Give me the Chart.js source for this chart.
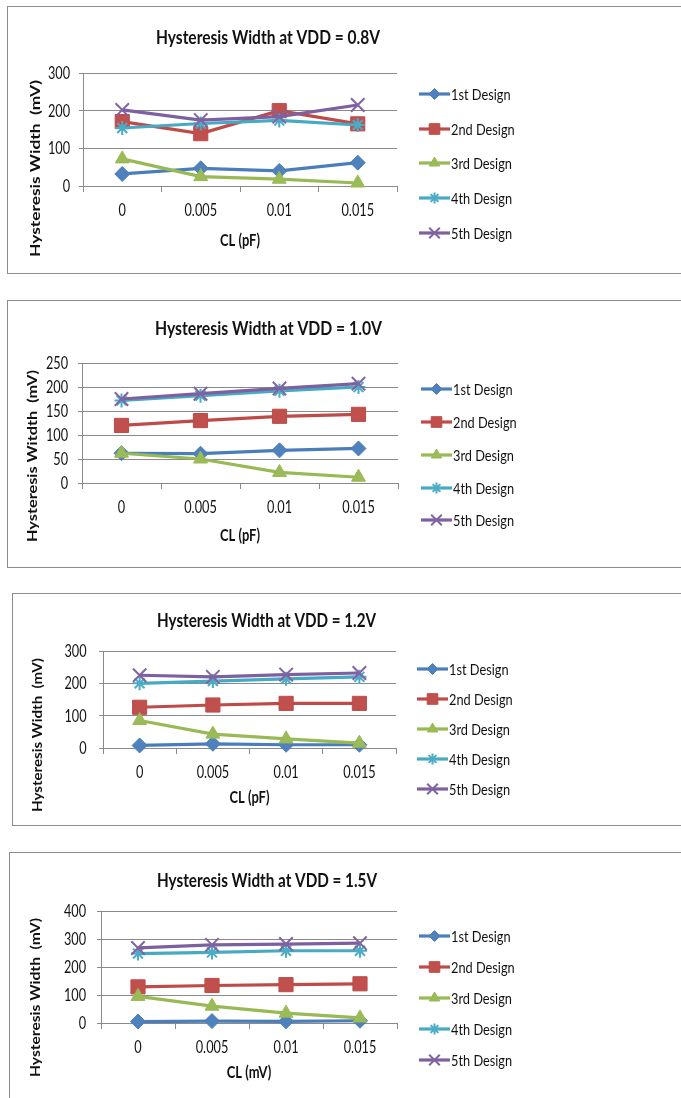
<!DOCTYPE html>
<html>
<head>
<meta charset="utf-8">
<script src="https://cdn.jsdelivr.net/npm/chart.js@4.4.1/dist/chart.umd.min.js"></script>
<style>
  html, body { margin: 0; padding: 0; background: #fff; width: 681px; height: 1098px; overflow: hidden; }
  .frame { position: absolute; border: 1px solid #8c8c8c; box-sizing: border-box; }
  canvas { position: absolute; left: 0; }
</style>
</head>
<body>
<div class="frame" style="left:7px;top:6px;width:700px;height:268px"></div>
<div class="frame" style="left:7px;top:300px;width:700px;height:268px"></div>
<div class="frame" style="left:12px;top:593px;width:700px;height:233px"></div>
<div class="frame" style="left:9px;top:852px;width:700px;height:270px"></div>
<canvas id="c08" width="681" height="268" style="top:6px"></canvas>
<canvas id="c10" width="681" height="268" style="top:300px"></canvas>
<canvas id="c12" width="681" height="233" style="top:593px"></canvas>
<canvas id="c15" width="681" height="246" style="top:852px"></canvas>
<script>
// Load capacitance categories and design names
const categories = ['0', '0.005', '0.01', '0.015'];
const designNames = ['1st Design', '2nd Design', '3rd Design', '4th Design', '5th Design'];

// Hysteresis width (mV) at VDD = 0.8 V
const vdd08First  = [32, 47, 40, 62];
const vdd08Second = [171, 139, 200, 165];
const vdd08Third  = [72, 25, 18, 8];
const vdd08Fourth = [154, 166, 174, 162];
const vdd08Fifth  = [202, 175, 184, 215];
const vdd08Ticks  = [0, 100, 200, 300];

// Hysteresis width (mV) at VDD = 1.0 V
const vdd10First  = [62, 61, 68, 72];
const vdd10Second = [120, 130, 139, 143];
const vdd10Third  = [62, 50, 22, 12];
const vdd10Fourth = [172, 182, 192, 200];
const vdd10Fifth  = [175, 186, 197, 207];
const vdd10Ticks  = [0, 50, 100, 150, 200, 250];

// Hysteresis width (mV) at VDD = 1.2 V
const vdd12First  = [8, 13, 10, 10];
const vdd12Second = [126, 133, 138, 138];
const vdd12Third  = [85, 43, 28, 15];
const vdd12Fourth = [200, 207, 214, 220];
const vdd12Fifth  = [225, 220, 227, 232];
const vdd12Ticks  = [0, 100, 200, 300];

// Hysteresis width (mV) at VDD = 1.5 V
const vdd15First  = [5, 7, 6, 8];
const vdd15Second = [129, 134, 137, 140];
const vdd15Third  = [95, 60, 35, 18];
const vdd15Fourth = [248, 252, 258, 258];
const vdd15Fifth  = [268, 279, 282, 285];
const vdd15Ticks  = [0, 100, 200, 300, 400];

const FONT = 'Lato, "Open Sans", "DejaVu Sans", sans-serif';
const CAP = 0.7165;          // cap height of the face, in em
const GRID = '#8a8a8a';
const INK = '#111';

// Office-style series styling
const lineColors   = ['#4A7EBB', '#BE4B48', '#98B954', '#46AAC5', '#7D60A0'];
const markerFills  = ['#4F81BD', '#C0504D', '#9BBB59', '#4BACC6', '#8064A2'];
const markerStyles = ['rectRot', 'rect', 'triangle', 'star', 'crossRot'];
const markerRadii  = [7.5, 10, 8, 7, 9.5];
const markerEdge   = [1, 1, 1, 2, 2];
const legendRadii  = [5.5, 7.5, 6, 5.5, 7.5];

function buildDatasets(series) {
  return series.map((values, i) => ({
    label: designNames[i],
    data: values,
    borderColor: lineColors[i],
    backgroundColor: markerFills[i],
    borderWidth: 3.2,
    tension: 0,
    pointStyle: markerStyles[i],
    pointRadius: markerRadii[i],
    pointHoverRadius: markerRadii[i],
    pointBackgroundColor: markerFills[i],
    pointBorderColor: i < 3 ? lineColors[i] : markerFills[i],
    pointBorderWidth: markerEdge[i],
    order: series.length - 1 - i,
    clip: false
  }));
}

// Narrow type: text is set in the face and squeezed horizontally
function squeeze(ctx, font, sample, width) {
  ctx.font = font;
  return width / ctx.measureText(sample).width;
}
function putText(ctx, str, x, yCapCenter, size, bold, sx, align) {
  ctx.save();
  ctx.font = (bold ? 'bold ' : '') + size + 'px ' + FONT;
  ctx.translate(x, yCapCenter + CAP * size / 2);
  ctx.scale(sx, 1);
  ctx.textAlign = align;
  ctx.textBaseline = 'alphabetic';
  ctx.fillText(str, 0, 0);
  ctx.restore();
}

// Titles, tick labels, axis captions and legend painted over the plot
const panelText = {
  id: 'panelText',
  afterDraw(chart, args, o) {
    const ctx = chart.ctx;
    const xs = chart.scales.x, ys = chart.scales.y;
    const area = chart.chartArea;
    ctx.save();
    ctx.fillStyle = INK;

    // chart title
    const tSize = 19.5;
    const tsx = squeeze(ctx, 'bold ' + tSize + 'px ' + FONT, o.title, o.titleW);
    putText(ctx, o.title, o.titleX, o.titleY, tSize, true, tsx, 'center');

    // tick labels along both axes
    const kSize = 16.5;
    const ksx = squeeze(ctx, kSize + 'px ' + FONT, '0.005', 32.5);
    chart.data.labels.forEach((lab, i) => {
      putText(ctx, lab, xs.getPixelForTick(i), area.bottom + 24.5, kSize, false, ksx, 'center');
    });
    o.yTicks.forEach(v => {
      putText(ctx, String(v), area.left - o.yGap, ys.getPixelForValue(v), kSize, false, ksx, 'right');
    });

    // x axis caption
    const xSize = 17.5;
    const xsx = squeeze(ctx, 'bold ' + xSize + 'px ' + FONT, 'CL (pF)', 40);
    putText(ctx, o.xTitle, (area.left + area.right) / 2, o.xTitleY, xSize, true, xsx, 'center');

    // y axis caption, rotated and fitted to its length
    ctx.save();
    const ySize = 17;
    ctx.translate(o.yTitleX, o.yTitleY);
    ctx.rotate(-Math.PI / 2);
    ctx.font = 'bold ' + ySize + 'px ' + FONT;
    const len = ctx.measureText(o.yTitle).width;
    ctx.scale(o.yTitleLen / len, 0.8);
    ctx.textAlign = 'center';
    ctx.textBaseline = 'alphabetic';
    ctx.fillText(o.yTitle, 0, CAP * ySize / 2);
    ctx.restore();

    // legend: line with marker, then the series name
    const lSize = 15.5;
    const lsx = squeeze(ctx, lSize + 'px ' + FONT, '1st Design', 59.5);
    chart.data.datasets.forEach((ds, i) => {
      const y = o.legendRows[i];
      ctx.strokeStyle = ds.borderColor;
      ctx.lineWidth = 3.2;
      ctx.beginPath();
      ctx.moveTo(o.legendX1, y);
      ctx.lineTo(o.legendX2, y);
      ctx.stroke();
      ctx.fillStyle = ds.pointBackgroundColor;
      ctx.strokeStyle = ds.pointBorderColor;
      ctx.lineWidth = ds.pointBorderWidth;
      Chart.helpers.drawPoint(ctx, {
        pointStyle: ds.pointStyle, radius: legendRadii[i], rotation: 0, borderWidth: ds.pointBorderWidth
      }, (o.legendX1 + o.legendX2) / 2, y);
      ctx.fillStyle = INK;
      putText(ctx, ds.label, o.legendX2 + 1, y, lSize, false, lsx, 'left');
    });
    ctx.restore();
  }
};

function drawPanel(id, series, ticks, area, text) {
  const canvas = document.getElementById(id);
  const H = canvas.height;
  const yW = 40, xH = 40;
  text.yTicks = ticks;
  new Chart(canvas, {
    type: 'line',
    data: { labels: categories, datasets: buildDatasets(series) },
    options: {
      responsive: false,
      animation: false,
      devicePixelRatio: 1,
      layout: {
        padding: {
          left: area.left - yW,
          right: canvas.width - area.right,
          top: area.top,
          bottom: H - area.bottom - xH
        }
      },
      plugins: { legend: { display: false }, title: { display: false }, tooltip: { enabled: false }, panelText: text },
      scales: {
        x: {
          type: 'category',
          offset: true,
          grid: { offset: true, drawOnChartArea: false, drawTicks: true, tickLength: 6, color: GRID, lineWidth: 1 },
          border: { display: true, color: GRID, width: 1 },
          ticks: { display: false, autoSkip: false, maxRotation: 0 },
          afterFit(s) { s.height = xH; }
        },
        y: {
          min: ticks[0],
          max: ticks[ticks.length - 1],
          ticks: { display: false, stepSize: ticks[1] - ticks[0] },
          grid: { color: GRID, lineWidth: 1, drawTicks: true, tickLength: 4 },
          border: { display: true, color: GRID, width: 1 },
          afterFit(s) { s.width = yW; }
        }
      }
    },
    plugins: [panelText]
  });
}

drawPanel('c08',
  [vdd08First, vdd08Second, vdd08Third, vdd08Fourth, vdd08Fifth], vdd08Ticks,
  { left: 83, right: 397, top: 67, bottom: 180 },
  { title: 'Hysteresis Width at VDD = 0.8V', titleX: 268, titleY: 30.7, titleW: 224,
    xTitle: 'CL (pF)', xTitleY: 234, yGap: 13,
    yTitle: 'Hysteresis Width  (mV)', yTitleX: 35, yTitleY: 162.5, yTitleLen: 177,
    legendX1: 419, legendX2: 450, legendRows: [88, 123, 157, 192, 227] });

drawPanel('c10',
  [vdd10First, vdd10Second, vdd10Third, vdd10Fourth, vdd10Fifth], vdd10Ticks,
  { left: 82, right: 398, top: 63, bottom: 183 },
  { title: 'Hysteresis Width at VDD = 1.0V', titleX: 268.5, titleY: 28.3, titleW: 227,
    xTitle: 'CL (pF)', xTitleY: 235, yGap: 14,
    yTitle: 'Hysteresis Witdth  (mV)', yTitleX: 32.5, yTitleY: 156, yTitleLen: 172,
    legendX1: 421, legendX2: 452, legendRows: [89, 122, 155, 188, 220] });

drawPanel('c12',
  [vdd12First, vdd12Second, vdd12Third, vdd12Fourth, vdd12Fifth], vdd12Ticks,
  { left: 103, right: 396, top: 58, bottom: 155 },
  { title: 'Hysteresis Width at VDD = 1.2V', titleX: 266.5, titleY: 27.3, titleW: 219,
    xTitle: 'CL (pF)', xTitleY: 203.7, yGap: 16.5,
    yTitle: 'Hysteresis Width  (mV)', yTitleX: 37.5, yTitleY: 142, yTitleLen: 154,
    legendX1: 417, legendX2: 448, legendRows: [76, 106, 136, 166, 196] });

drawPanel('c15',
  [vdd15First, vdd15Second, vdd15Third, vdd15Fourth, vdd15Fifth], vdd15Ticks,
  { left: 101, right: 397, top: 59, bottom: 171 },
  { title: 'Hysteresis Width at VDD = 1.5V', titleX: 267, titleY: 27.7, titleW: 220,
    xTitle: 'CL (mV)', xTitleY: 220, yGap: 15,
    yTitle: 'Hysteresis Width  (mV)', yTitleX: 35.5, yTitleY: 145.5, yTitleLen: 159,
    legendX1: 419, legendX2: 450, legendRows: [84, 115, 146, 177, 208] });
</script>
</body>
</html>
